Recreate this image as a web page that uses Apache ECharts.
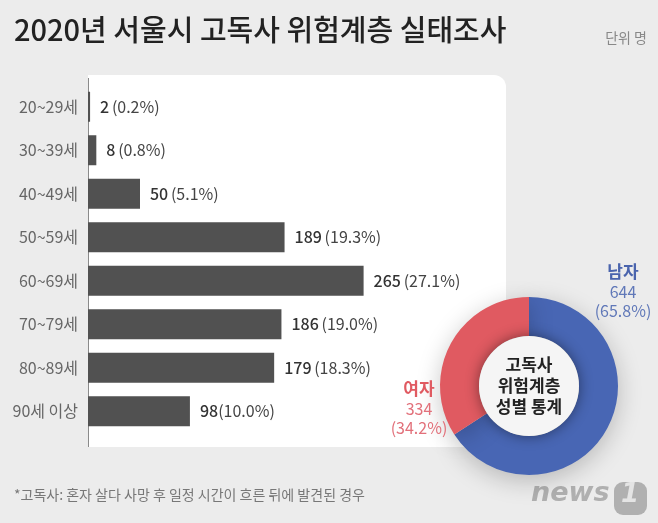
<!DOCTYPE html>
<html>
<head>
<meta charset="utf-8">
<script src="https://cdn.jsdelivr.net/npm/echarts@6/dist/echarts.min.js"></script>
<style>
  html, body { margin: 0; padding: 0; background: #ececec; }
  #chart { width: 658px; height: 523px; }
</style>
</head>
<body>
<div id="chart"></div>
<script>
  // 연령대별 고독사 위험계층
  const ages = ["20~29세", "30~39세", "40~49세", "50~59세", "60~69세", "70~79세", "80~89세", "90세 이상"];
  const counts = [2, 8, 50, 189, 265, 186, 179, 98];
  const shares = [0.2, 0.8, 5.1, 19.3, 27.1, 19.0, 18.3, 10.0];
  // 성별 통계
  const genders = ["남자", "여자"];
  const genderCounts = [644, 334];
  const genderShares = [65.8, 34.2];

  const FONT = "'Noto Sans CJK KR', 'Noto Sans', sans-serif";
  const BLUE = "#4866b4";
  const RED = "#e05a61";
  const pieCx = 529, pieCy = 386;

  const chart = echarts.init(document.getElementById("chart"));

  chart.setOption({
    backgroundColor: "#ececec",
    textStyle: { fontFamily: FONT },
    graphic: [
      // 흰 패널
      {
        type: "rect", z: -10,
        shape: { x: 88, y: 75, width: 418, height: 372, r: [0, 12, 0, 0] },
        style: { fill: "#ffffff" }
      },
      {
        type: "line", z: -9,
        shape: { x1: 88.5, y1: 78, x2: 88.5, y2: 447 },
        style: { stroke: "#8a8a8a", lineWidth: 1 }
      },
      {
        type: "text", left: 14, top: 15,
        style: { text: "2020년 서울시 고독사 위험계층 실태조사", font: "500 29px " + FONT, fill: "#222" }
      },
      {
        type: "text", right: 11, top: 31,
        style: { text: "단위 명", font: "14px " + FONT, fill: "#888" }
      },
      {
        type: "text", left: 14, top: 488,
        style: { text: "*고독사: 혼자 살다 사망 후 일정 시간이 흐른 뒤에 발견된 경우", font: "14px " + FONT, fill: "#777" }
      },
      // news1 로고
      {
        type: "text", left: 531, top: 480,
        style: { text: "news", font: "italic bold 27px 'DejaVu Sans', sans-serif", fill: "#b0b0b0" }
      },
      {
        type: "rect", z: 1,
        shape: { x: 614, y: 482, width: 33, height: 33, r: 9 },
        style: { fill: "#b0b0b0" }
      },
      {
        type: "text", z: 2, left: 621, top: 482,
        style: { text: "1", font: "italic bold 26px 'DejaVu Sans', sans-serif", fill: "#e4e4e4" }
      },
      // 도넛 가운데 원
      {
        type: "circle", z: 100,
        shape: { cx: pieCx, cy: pieCy, r: 50 },
        style: { fill: "#f5f5f5", shadowBlur: 14, shadowColor: "rgba(0,0,0,0.45)" }
      },
      {
        type: "text", z: 101, x: pieCx, y: pieCy,
        style: {
          text: "고독사\n위험계층\n성별 통계", font: "bold 17px " + FONT, fill: "#222",
          align: "center", verticalAlign: "middle", lineHeight: 21
        }
      },
      {
        type: "text", z: 101, x: 623, y: 262,
        style: {
          text: "{a|" + genders[0] + "}\n{b|" + genderCounts[0] + "}\n{b|(" + genderShares[0].toFixed(1) + "%)}",
          align: "center", verticalAlign: "top",
          rich: {
            a: { font: "bold 17px " + FONT, fill: "#4a64ad", lineHeight: 20, align: "center" },
            b: { font: "16px " + FONT, fill: "#6078b8", lineHeight: 19, align: "center" }
          }
        }
      },
      {
        type: "text", z: 101, x: 419, y: 379,
        style: {
          text: "{a|" + genders[1] + "}\n{b|" + genderCounts[1] + "}\n{b|(" + genderShares[1].toFixed(1) + "%)}",
          align: "center", verticalAlign: "top",
          rich: {
            a: { font: "bold 17px " + FONT, fill: RED, lineHeight: 20, align: "center" },
            b: { font: "16px " + FONT, fill: "#e2707a", lineHeight: 19, align: "center" }
          }
        }
      }
    ],
    grid: { left: 88, top: 85, width: 416, height: 348, containLabel: false },
    xAxis: {
      type: "value", min: 0, max: 400, show: false
    },
    yAxis: {
      type: "category",
      data: ages,
      inverse: true,
      axisLine: { show: false },
      axisTick: { show: false },
      axisLabel: { margin: 10, fontSize: 16, color: "#666", fontFamily: FONT }
    },
    series: [
      {
        type: "bar",
        data: counts,
        barWidth: 30,
        itemStyle: { color: "#515151" },
        label: {
          show: true,
          position: "right",
          distance: 10,
          formatter: (p) => "{n|" + p.value + "}" + (p.dataIndex === 7 ? "" : " ") +
            "{p|(" + shares[p.dataIndex].toFixed(1) + "%)}",
          rich: {
            n: { fontSize: 16, fontWeight: 500, color: "#333", fontFamily: FONT },
            p: { fontSize: 16, color: "#444", fontFamily: FONT }
          }
        }
      },
      {
        type: "pie",
        center: [pieCx, pieCy],
        radius: [50, 89],
        startAngle: 90,
        clockwise: true,
        silent: true,
        label: { show: false },
        labelLine: { show: false },
        itemStyle: { shadowBlur: 24, shadowColor: "rgba(0,0,0,0.22)", shadowOffsetY: 6 },
        data: genders.map((g, i) => ({
          name: g, value: genderCounts[i],
          itemStyle: { color: i === 0 ? BLUE : RED }
        }))
      }
    ]
  });
</script>
</body>
</html>
